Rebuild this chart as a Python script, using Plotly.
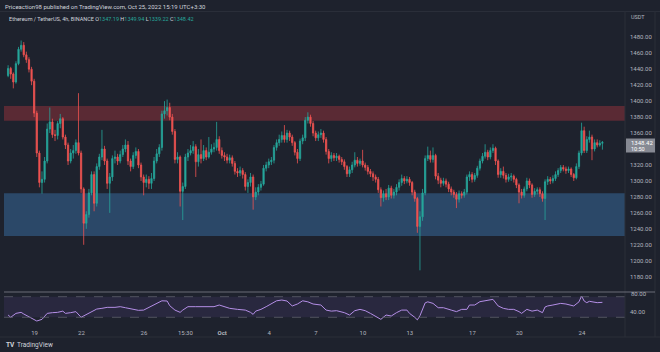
import plotly.graph_objects as go
from datetime import datetime, timedelta

# ---------------- data ----------------
open_ = [1432,1441,1434,1424,1447,1465,1470,1458,1452,1440,1425,1385,1335,1298,1302,1325,1365,1374,1358,1357,
         1372,1378,1355,1345,1325,1335,1338,1348,1335,1290,1247,1258,1285,1308,1272,1318,1330,1340,1325,1297,
         1305,1328,1330,1325,1333,1340,1345,1325,1318,1332,1337,1320,1305,1298,1302,1297,1303,1325,1334,1342,
         1384,1388,1392,1380,1362,1327,1330,1287,1293,1330,1335,1338,1343,1324,1333,1328,1338,1330,1336,1340,
         1342,1352,1338,1332,1330,1326,1329,1322,1312,1310,1313,1308,1293,1298,1305,1280,1286,1292,1296,1316,
         1320,1324,1326,1342,1348,1352,1357,1352,1360,1355,1348,1336,1328,1350,1354,1376,1380,1372,1360,1354,
         1358,1360,1352,1337,1328,1332,1329,1331,1327,1324,1318,1309,1314,1320,1326,1322,1325,1320,1317,1312,
         1309,1305,1302,1289,1279,1284,1280,1291,1282,1286,1292,1298,1303,1300,1302,1298,1286,1278,1243,1255,
         1285,1328,1332,1327,1332,1306,1301,1297,1300,1296,1290,1286,1283,1277,1284,1282,1286,1305,1308,1302,
         1307,1316,1325,1331,1336,1330,1338,1341,1325,1308,1312,1307,1302,1305,1306,1302,1295,1286,1282,1290,
         1300,1295,1283,1287,1289,1284,1278,1299,1302,1300,1303,1308,1313,1317,1315,1313,1315,1308,1304,1318,
         1335,1363,1338,1352,1355,1340,1348,1345,1347.19]
high = [1445,1443,1436,1450,1468,1476,1474,1462,1455,1443,1428,1388,1338,1312,1330,1372,1392,1378,1364,1375,
        1384,1380,1358,1348,1340,1345,1352,1410,1338,1292,1262,1290,1312,1312,1322,1334,1364,1344,1328,1310,
        1332,1338,1334,1338,1345,1352,1350,1328,1336,1342,1340,1323,1308,1308,1306,1310,1330,1340,1346,1388,
        1400,1402,1398,1384,1365,1336,1332,1298,1334,1340,1345,1350,1346,1340,1352,1345,1342,1355,1346,1348,
        1374,1356,1342,1336,1334,1333,1332,1325,1316,1318,1316,1311,1302,1310,1308,1292,1296,1300,1320,1324,
        1328,1330,1345,1352,1358,1362,1370,1364,1363,1358,1350,1340,1353,1358,1380,1386,1383,1375,1363,1362,
        1365,1363,1355,1340,1336,1335,1335,1333,1330,1327,1320,1318,1324,1336,1330,1328,1339,1323,1320,1315,
        1312,1308,1305,1292,1288,1290,1295,1294,1290,1296,1302,1308,1306,1306,1305,1300,1289,1280,1262,1290,
        1332,1343,1338,1342,1334,1310,1304,1304,1303,1299,1293,1289,1286,1288,1287,1290,1308,1312,1311,1310,
        1319,1328,1335,1346,1339,1342,1346,1343,1327,1316,1318,1310,1309,1310,1308,1304,1297,1290,1293,1304,
        1303,1297,1291,1292,1292,1287,1302,1306,1305,1307,1312,1316,1320,1320,1318,1318,1317,1310,1322,1338,
        1373,1368,1356,1363,1358,1352,1352,1351,1349.94]
low = [1430,1428,1416,1422,1445,1462,1455,1448,1436,1420,1380,1330,1292,1284,1298,1322,1360,1354,1350,1352,
       1366,1352,1340,1320,1322,1328,1334,1332,1285,1220,1240,1254,1282,1262,1268,1314,1326,1320,1290,1260,
       1300,1322,1320,1322,1330,1336,1320,1312,1315,1328,1316,1300,1282,1292,1290,1290,1300,1322,1330,1338,
       1378,1382,1376,1358,1322,1322,1268,1251,1290,1325,1332,1334,1305,1318,1322,1325,1326,1328,1333,1336,
       1338,1334,1328,1325,1322,1322,1318,1308,1305,1306,1303,1288,1285,1293,1264,1276,1282,1288,1294,1312,
       1316,1320,1322,1338,1344,1348,1348,1348,1350,1344,1332,1322,1325,1346,1350,1372,1368,1356,1350,1350,
       1354,1348,1333,1322,1324,1325,1325,1323,1320,1314,1305,1305,1310,1317,1318,1319,1317,1313,1308,1305,
       1300,1298,1285,1268,1274,1276,1276,1278,1278,1282,1288,1294,1296,1297,1294,1282,1274,1235,1188,1250,
       1282,1325,1323,1323,1302,1296,1292,1294,1292,1286,1282,1279,1266,1273,1278,1279,1283,1300,1298,1299,
       1304,1313,1322,1328,1326,1327,1335,1320,1304,1304,1303,1298,1299,1300,1298,1291,1272,1278,1279,1287,
       1291,1279,1280,1283,1280,1274,1251,1295,1296,1297,1300,1305,1310,1312,1309,1310,1305,1300,1302,1315,
       1332,1335,1335,1348,1326,1337,1342,1343,1339.22]
close = [1441,1434,1424,1447,1465,1470,1458,1452,1440,1425,1385,1335,1298,1302,1325,1365,1374,1358,1357,1372,
         1378,1355,1345,1325,1335,1338,1348,1335,1290,1247,1258,1285,1308,1272,1318,1330,1340,1325,1297,1305,
         1328,1330,1325,1333,1340,1345,1325,1318,1332,1337,1320,1305,1298,1302,1297,1303,1325,1334,1342,1384,
         1388,1392,1380,1362,1327,1330,1287,1293,1330,1335,1338,1343,1324,1333,1328,1338,1330,1336,1340,1342,
         1352,1338,1332,1330,1326,1329,1322,1312,1310,1313,1308,1293,1298,1305,1280,1286,1292,1296,1316,1320,
         1324,1326,1342,1348,1352,1357,1352,1360,1355,1348,1336,1328,1350,1354,1376,1380,1372,1360,1354,1358,
         1360,1352,1337,1328,1332,1329,1331,1327,1324,1318,1309,1314,1320,1326,1322,1325,1320,1317,1312,1309,
         1305,1302,1289,1279,1284,1280,1291,1282,1286,1292,1298,1303,1300,1302,1298,1286,1278,1243,1255,1285,
         1328,1332,1327,1332,1306,1301,1297,1300,1296,1290,1286,1283,1277,1284,1282,1286,1305,1308,1302,1307,
         1316,1325,1331,1336,1330,1338,1341,1325,1308,1312,1307,1302,1305,1306,1302,1295,1286,1282,1290,1300,
         1295,1283,1287,1289,1284,1278,1299,1302,1300,1303,1308,1313,1317,1315,1313,1315,1308,1304,1318,1335,
         1363,1338,1352,1355,1340,1348,1345,1347.19,1348.42]

rsi_idx = [0,1,3,5,6,9,11,13,15,17,19,21,22,24,26,28,30,32,34,36,38,41,43,45,48,50,52,54,56,59,61,62,64,66,67,
           69,72,74,77,79,81,83,85,88,91,93,94,95,97,99,101,103,105,107,109,111,113,115,117,120,122,124,126,129,
           131,133,135,137,139,141,143,145,147,149,151,153,154,156,157,158,159,160,161,163,165,167,170,172,174,
           176,177,179,181,184,186,188,190,192,194,196,197,199,201,203,205,206,207,209,212,214,217,219,220,221,
           222,223,226,228]
rsi_val = [34.4,30,37.6,39.6,36.4,28,22.8,26,37.6,39,39.6,42,37.6,39,41,30,35.7,41,46,47.4,49.3,49.3,50.6,48.6,
           46,43.5,44,49.3,53.8,62,61.6,52.5,44,39.6,44,50.6,50.6,50.6,52,50.6,53.8,50.6,47.4,45.4,44,39.6,35.7,
           42,45.4,50.6,55.8,62,63.5,61.6,52,55.8,62,60,55.8,53.8,44,42,42.8,39,34.4,42.8,45.4,42.8,37.6,32.5,26,
           34.4,32.5,39,44,44,37.6,30,25,33,47,58,60,57,48.6,48.6,44,41,45.4,45.4,53.8,53.8,60.3,63.5,64.8,52,
           47.4,45.4,45.4,41,37.6,45.4,42,44,39,50,52,53.8,57,55.8,52,60,71.3,61.6,58.4,61,58.4,59]

zone_red = (1375.5, 1394)
zone_blue = (1231, 1284.5)

price_ticks = [1180,1200,1220,1240,1260,1280,1300,1320,1360,1380,1400,1420,1440,1460,1480]
time_tick_dates = ["2022-09-19","2022-09-22","2022-09-26","2022-09-28 15:30","2022-10-01","2022-10-04",
                   "2022-10-07","2022-10-10","2022-10-13","2022-10-17","2022-10-20","2022-10-24"]
time_tick_text = ["19","22","26","15:30","<b>Oct</b>","4","7","10","13","17","20","24"]

# ---------------- layout helpers ----------------
W, H = 660, 352
ML, MR, MT, MB = 4, 35, 12, 26
PW, PH = W - ML - MR, H - MT - MB
def px(x): return (x - ML) / PW
def py(y): return (H - MB - y) / PH

BG = "#1e222d"
AX = "#b2b5be"
FONT = "Roboto"

start = datetime(2022, 9, 17, 7, 30)
times = [start + timedelta(hours=4 * i) for i in range(len(close))]

fig = go.Figure()
fig.add_trace(go.Candlestick(
    x=times, open=open_, high=high, low=low, close=close,
    increasing=dict(line=dict(color="#26a69a", width=0.8), fillcolor="#26a69a"),
    decreasing=dict(line=dict(color="#ef5350", width=0.8), fillcolor="#ef5350"),
    whiskerwidth=0, xaxis="x", yaxis="y", hoverinfo="skip", showlegend=False))
fig.add_trace(go.Scatter(
    x=[times[i] for i in rsi_idx], y=rsi_val, mode="lines",
    line=dict(color="#b48ee6", width=1), xaxis="x2", yaxis="y2",
    hoverinfo="skip", showlegend=False))

shapes = []
shapes.append(dict(type="rect", xref="paper", yref="y", x0=0, x1=1, y0=zone_red[0], y1=zone_red[1],
                   fillcolor="#5a2a34", line=dict(width=0), layer="below"))
shapes.append(dict(type="rect", xref="paper", yref="y", x0=0, x1=1, y0=zone_blue[0], y1=zone_blue[1],
                   fillcolor="#2b4868", line=dict(width=0), layer="below"))
shapes.append(dict(type="rect", xref="paper", yref="y2", x0=0, x1=1, y0=30, y1=70,
                   fillcolor="rgba(126,87,194,0.12)", line=dict(width=0), layer="below"))
for lv in (30, 70):
    shapes.append(dict(type="line", xref="paper", yref="y2", x0=0, x1=1, y0=lv, y1=lv,
                       line=dict(color="#5d606b", width=0.8, dash="dash")))
shapes.append(dict(type="line", xref="paper", yref="paper", x0=px(0), x1=px(660), y0=py(11.5), y1=py(11.5),
                   line=dict(color="#2a2e39", width=1)))
for xv in (625, 655):
    shapes.append(dict(type="line", xref="paper", yref="paper", x0=px(xv), x1=px(xv), y0=py(11.5), y1=py(337),
                       line=dict(color="#2a2e39", width=1)))
shapes.append(dict(type="line", xref="paper", yref="paper", x0=px(0), x1=px(660), y0=py(337), y1=py(337),
                   line=dict(color="#2a2e39", width=1)))
shapes.append(dict(type="rect", xref="paper", yref="paper", x0=px(626), x1=px(655), y0=py(152.5), y1=py(138.5),
                   fillcolor="#868993", line=dict(width=0)))

def ann(x, y, text, size=6, color=AX, xanchor="left"):
    return dict(xref="paper", yref="paper", x=px(x), y=py(y), text=text, showarrow=False,
                xanchor=xanchor, yanchor="middle", font=dict(family=FONT, size=size, color=color))

G = "#26a69a"
legend_txt = ("Ethereum / TetherUS, 4h, BINANCE&nbsp;"
              f"O<span style='color:{G}'>1347.19</span> H<span style='color:{G}'>1349.94</span> "
              f"L<span style='color:{G}'>1339.22</span> C<span style='color:{G}'>1348.42</span>")
annotations = [
    ann(3, 6, "Priceaction98 published on TradingView.com, Oct 25, 2022 15:19 UTC+3:30", 6, "#d1d4dc"),
    ann(7, 18.5, legend_txt, 5.5, "#d1d4dc"),
    ann(629, 16.5, "USDT", 5.5, AX),
    ann(629, 142, "1348.42", 6, "#ffffff"),
    ann(629, 149, "10:50", 5.5, "#ffffff"),
    ann(629, 293.5, "80.00", 6, AX),
    ann(4, 345, "<b>TV</b>", 6.5, "#d1d4dc"),
    ann(15, 345, "TradingView", 6.5, "#d1d4dc"),
]

# RSI pane separator drawn above the 80.00 label area (shape after annotations are laid out)
shapes.append(dict(type="line", xref="paper", yref="paper", x0=px(4), x1=px(655), y0=py(292), y1=py(292),
                   line=dict(color="#6a6d78", width=1)))

fig.update_layout(
    width=W, height=H, margin=dict(l=ML, r=MR, t=MT, b=MB),
    paper_bgcolor=BG, plot_bgcolor=BG, showlegend=False,
    font=dict(family=FONT, size=6, color=AX),
    xaxis=dict(domain=[0, 1], anchor="y", type="date",
               range=["2022-09-17 01:12", "2022-10-26 18:09"],
               showticklabels=False, showgrid=False, zeroline=False, showline=False,
               rangeslider=dict(visible=False)),
    xaxis2=dict(domain=[0, 1], anchor="y2", type="date", matches="x",
                tickvals=time_tick_dates, ticktext=time_tick_text, ticks="", ticklabelstandoff=2,
                tickfont=dict(family=FONT, size=6, color=AX),
                showgrid=False, zeroline=False, showline=False),
    yaxis=dict(domain=[py(291), 1], anchor="x", side="right", range=[1162.1, 1511.7],
               tickvals=price_ticks, tickformat=".2f", ticks="", ticklabelstandoff=4,
               tickfont=dict(family=FONT, size=6, color=AX),
               showgrid=False, zeroline=False, showline=False),
    yaxis2=dict(domain=[0, py(292)], anchor="x2", side="right", range=[13.1, 79.1],
                tickvals=[40], tickformat=".2f", ticks="", ticklabelstandoff=4,
                tickfont=dict(family=FONT, size=6, color=AX),
                showgrid=False, zeroline=False, showline=False),
    shapes=shapes, annotations=annotations,
)

fig.write_html("out.html", config={"displayModeBar": False},
               post_script="document.body.style.margin='0';document.body.style.background='" + BG + "';")
